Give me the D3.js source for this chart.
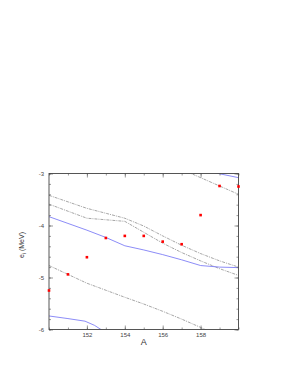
<!DOCTYPE html>
<html>
<head>
<meta charset="utf-8">
<script src="https://cdn.jsdelivr.net/npm/d3@7"></script>
<style>
html,body{margin:0;padding:0;background:#fff;}
svg{display:block;}
text{font-family:"Liberation Sans",Arial,sans-serif;}
</style>
</head>
<body>
<svg id="chart" width="288" height="372"></svg>
<script>
// ---- data ----
const pointsA = [150,151,152,153,154,155,156,157,158,159,160];
const pointsE = [-5.25,-4.94,-4.61,-4.24,-4.20,-4.20,-4.31,-4.36,-3.80,-3.24,-3.25];

const grayUpperA = [150,152,154,155,156,157,158,159,160];
const grayUpperE = [-3.42,-3.67,-3.86,-4.01,-4.20,-4.38,-4.54,-4.68,-4.80];

const grayLowerA = [150,152,154,155,156,157,158,159,160];
const grayLowerE = [-3.59,-3.86,-3.92,-4.13,-4.34,-4.52,-4.68,-4.83,-4.96];

const grayBottomA = [150,152,154,155,156,157,158,159];
const grayBottomE = [-4.77,-5.11,-5.38,-5.51,-5.65,-5.80,-5.96,-6.12];

const grayTopA = [157,159,160];
const grayTopE = [-2.92,-3.24,-3.40];

const blueMainA = [150,151,152,153,154,155,156,157,158,159,160];
const blueMainE = [-3.83,-3.96,-4.09,-4.23,-4.39,-4.47,-4.56,-4.66,-4.77,-4.80,-4.81];

const blueBottomA = [150,151,151.9,152.4,153];
const blueBottomE = [-5.74,-5.79,-5.84,-5.92,-6.06];

const blueTopA = [158,160];
const blueTopE = [-2.93,-3.08];

const xTickLabels = [152,154,156,158];
const yTickLabels = [-3,-4,-5,-6];
const xMinorTicks = [150,151,152,153,154,155,156,157,158,159,160];
const yMinorTicks = d3.range(0,16).map(i => -3 - i*0.2);

// ---- layout ----
const W = 288, H = 372;
const m = {left:49, right:49.5, top:173.5, bottom:42.5};
const svg = d3.select("#chart");
const x = d3.scaleLinear().domain([150,160]).range([m.left, W-m.right]);
const y = d3.scaleLinear().domain([-6,-3]).range([H-m.bottom, m.top]);

svg.append("defs").append("clipPath").attr("id","clip")
  .append("rect").attr("x",m.left).attr("y",m.top)
  .attr("width",x(160)-x(150)).attr("height",y(-6)-y(-3));

const line = d3.line().x(d=>x(d[0])).y(d=>y(d[1]));
const zip = (a,b) => a.map((v,i)=>[v,b[i]]);
const g = svg.append("g").attr("clip-path","url(#clip)");

const grays = [[grayUpperA,grayUpperE],[grayLowerA,grayLowerE],[grayBottomA,grayBottomE],[grayTopA,grayTopE]];
grays.forEach(([a,e])=>{
  g.append("path").attr("d",line(zip(a,e))).attr("fill","none")
   .attr("stroke","#808080").attr("stroke-width",0.7).attr("stroke-dasharray","3,1,1,1");
});
const blues = [[blueMainA,blueMainE],[blueBottomA,blueBottomE],[blueTopA,blueTopE]];
blues.forEach(([a,e])=>{
  g.append("path").attr("d",line(zip(a,e))).attr("fill","none")
   .attr("stroke","#6f6ff5").attr("stroke-width",0.8);
});

// axes (ticks inward)
const axisColor = "#555";
function styleAxis(sel){
  sel.select(".domain").remove();
  sel.selectAll("line").attr("stroke",axisColor).attr("stroke-width",0.6);
  sel.selectAll("text").attr("fill","#444").attr("font-size","6px");
}
// minor ticks
svg.append("g").attr("transform",`translate(0,${y(-6)})`)
  .call(d3.axisBottom(x).tickValues(xMinorTicks).tickSize(-2).tickFormat("")).call(styleAxis);
svg.append("g").attr("transform",`translate(0,${y(-3)})`)
  .call(d3.axisTop(x).tickValues(xMinorTicks).tickSize(-2).tickFormat("")).call(styleAxis);
svg.append("g").attr("transform",`translate(${x(150)},0)`)
  .call(d3.axisLeft(y).tickValues(yMinorTicks).tickSize(-2).tickFormat("")).call(styleAxis);
svg.append("g").attr("transform",`translate(${x(160)},0)`)
  .call(d3.axisRight(y).tickValues(yMinorTicks).tickSize(-2).tickFormat("")).call(styleAxis);
// major ticks with labels
svg.append("g").attr("transform",`translate(0,${y(-6)})`)
  .call(d3.axisBottom(x).tickValues(xTickLabels).tickSize(-4).tickPadding(3).tickFormat(d=>String(d))).call(styleAxis);
svg.append("g").attr("transform",`translate(0,${y(-3)})`)
  .call(d3.axisTop(x).tickValues(xTickLabels).tickSize(-4).tickFormat("")).call(styleAxis);
svg.append("g").attr("transform",`translate(${x(150)},0)`)
  .call(d3.axisLeft(y).tickValues(yTickLabels).tickSize(-4).tickPadding(5).tickFormat(d=>String(d))).call(styleAxis);
svg.append("g").attr("transform",`translate(${x(160)},0)`)
  .call(d3.axisRight(y).tickValues(yTickLabels).tickSize(-4).tickFormat("")).call(styleAxis);

// frame
svg.append("rect").attr("x",x(150)).attr("y",y(-3))
  .attr("width",x(160)-x(150)).attr("height",y(-6)-y(-3))
  .attr("fill","none").attr("stroke","#444").attr("stroke-width",0.9);

// points
svg.append("g").selectAll("rect").data(zip(pointsA,pointsE)).join("rect")
  .attr("x",d=>x(d[0])-1.3).attr("y",d=>y(d[1])-1.3)
  .attr("width",2.6).attr("height",2.6).attr("fill","#ff0000");

// axis titles
svg.append("text").attr("x",(x(150)+x(160))/2).attr("y",345)
  .attr("text-anchor","middle").attr("font-size","9px").attr("fill","#333").text("A");
const yt = svg.append("text").attr("transform","translate(24,245) rotate(-90)")
  .attr("text-anchor","middle").attr("font-size","7px").attr("fill","#333");
yt.append("tspan").text("e");
yt.append("tspan").attr("font-size","5px").attr("dy","1.5").text("i");
yt.append("tspan").attr("dy","-1.5").text(" (MeV)");
</script>
</body>
</html>
